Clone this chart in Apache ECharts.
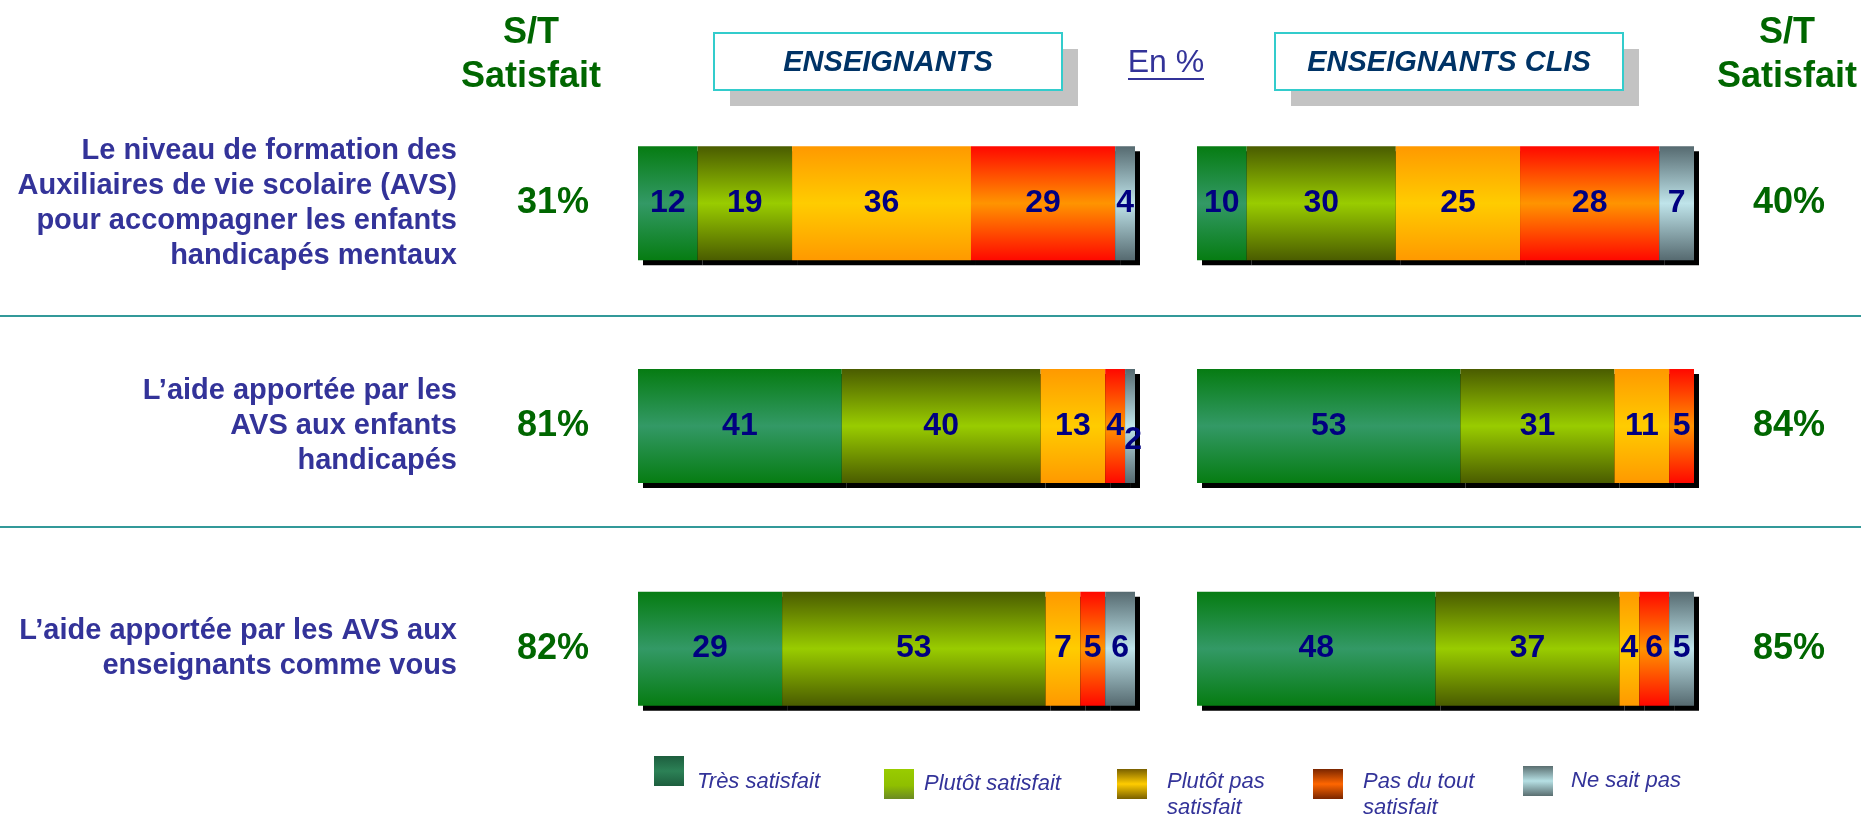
<!DOCTYPE html>
<html>
<head>
<meta charset="utf-8">
<title>Satisfaction AVS</title>
<script src="https://cdn.jsdelivr.net/npm/echarts@6/dist/echarts.min.js"></script>
<style>
html, body { margin: 0; padding: 0; background: #fff; }
#chart { width: 1861px; height: 817px; }
</style>
</head>
<body>
<div id="chart"></div>
<script>
// questions (one per row, top to bottom)
var questions = [
    'Le niveau de formation des\nAuxiliaires de vie scolaire (AVS)\npour accompagner les enfants\nhandicapés mentaux',
    'L\u2019aide apportée par les\nAVS aux enfants\nhandicapés',
    'L\u2019aide apportée par les AVS aux\nenseignants comme vous'
];
var levels = ['Très satisfait', 'Plutôt satisfait', 'Plutôt pas satisfait', 'Pas du tout satisfait', 'Ne sait pas'];
var groups = ['ENSEIGNANTS', 'ENSEIGNANTS CLIS'];

// en %, one row per question, one column per level
var enseignants = [
    [12, 19, 36, 29, 4],
    [41, 40, 13, 4, 2],
    [29, 53, 7, 5, 6]
];
var enseignantsClis = [
    [10, 30, 25, 28, 7],
    [53, 31, 11, 5, null],
    [48, 37, 4, 6, 5]
];
// S/T satisfait
var stEnseignants = [31, 81, 82];
var stClis = [40, 84, 85];

var FONT = 'Arial, "Liberation Sans", sans-serif';

function grad(edge, mid) {
    return new echarts.graphic.LinearGradient(0, 0, 0, 1, [
        {offset: 0, color: edge}, {offset: 0.5, color: mid}, {offset: 1, color: edge}
    ]);
}
var barColors = [
    grad('#067c12', '#339966'),
    grad('#4a5c00', '#99cc00'),
    grad('#ff9900', '#ffcc00'),
    grad('#ff0800', '#ff9400'),
    grad('#566a70', '#bfe4ea')
];
var legendColors = [
    grad('#1d5e3e', '#2c8156'),
    new echarts.graphic.LinearGradient(0, 0, 0, 1, [{offset: 0, color: '#99cc00'}, {offset: 0.55, color: '#8fbf00'}, {offset: 1, color: '#6b8a23'}]),
    grad('#7a6000', '#ffcc00'),
    grad('#7a2600', '#ff6600'),
    grad('#5a6e70', '#b6e0e4')
];

function makeSeries(rows, gridIdx, yIdx, stack) {
    return levels.map(function (name, k) {
        return {
            name: name,
            type: 'bar',
            stack: stack,
            xAxisIndex: gridIdx,
            yAxisIndex: yIdx,
            barWidth: 114,
            data: rows.map(function (r) {
                var v = r[k];
                if (v != null && v <= 2) {
                    return {value: v, label: {offset: [3, 14]}};
                }
                return v;
            }),
            itemStyle: {
                color: barColors[k],
                shadowColor: '#000',
                shadowBlur: 0,
                shadowOffsetX: 5,
                shadowOffsetY: 5
            },
            label: {
                show: true,
                position: 'inside',
                color: '#000080',
                fontFamily: FONT,
                fontWeight: 'bold',
                fontSize: 32
            },
            emphasis: {disabled: true}
        };
    });
}

// legend spots: shift = push the text below the icon centre
var legendSpots = [
    {left: 654, top: 747, gap: 8, shift: true},
    {left: 884, top: 769, gap: 5},
    {left: 1117, top: 747, gap: 15, shift: true, wrap: true},
    {left: 1313, top: 747, gap: 15, shift: true, wrap: true},
    {left: 1523, top: 766, gap: 13}
];

var legends = levels.map(function (name, k) {
    var spot = legendSpots[k];
    return {
        left: spot.left,
        top: spot.top,
        padding: 0,
        selectedMode: false,
        icon: 'rect',
        itemWidth: 30,
        itemHeight: 30,
        data: [{
            name: name,
            itemStyle: {color: legendColors[k], shadowBlur: 0, shadowOffsetX: 0, shadowOffsetY: 0, borderWidth: 0}
        }],
        formatter: function (n) {
            var lines = spot.wrap ? n.replace(/ satisfait$/, '\nsatisfait').split('\n') : [n];
            var txt = lines.map(function (l) { return '{t|' + l + '}'; }).join('\n');
            return spot.shift ? '{p| }\n' + txt : txt;
        },
        textStyle: {
            padding: [0, 0, 0, spot.gap],
            rich: {
                p: {fontSize: 2, lineHeight: 22, height: 22},
                t: {color: '#333399', fontStyle: 'italic', fontFamily: FONT, fontSize: 22, lineHeight: 26}
            }
        }
    };
});

function pct(v) { return v + '%'; }

var headerText = {color: '#006600', fontSize: 36, fontWeight: 'bold', lineHeight: 44, fontFamily: FONT};

var graphics = [];
[714, 1275].forEach(function (x, i) {
    graphics.push({type: 'rect', silent: true, shape: {x: x + 16, y: 49, width: 348, height: 57}, style: {fill: '#c3c3c3'}});
    graphics.push({type: 'rect', silent: true, shape: {x: x, y: 33, width: 348, height: 57}, style: {fill: '#fff', stroke: '#33cccc', lineWidth: 2}});
    graphics.push({type: 'text', silent: true, x: x + 174, y: 63, style: {
        text: groups[i], fill: '#003366', fontFamily: FONT, fontSize: 29, fontWeight: 'bold', fontStyle: 'italic',
        align: 'center', verticalAlign: 'middle'
    }});
});
graphics.push({type: 'text', silent: true, x: 1166, y: 63, style: {
    text: 'En %', fill: '#333399', fontFamily: FONT, fontSize: 32, align: 'center', verticalAlign: 'middle'
}});
graphics.push({type: 'line', silent: true, shape: {x1: 1128, y1: 79, x2: 1204, y2: 79}, style: {stroke: '#333399', lineWidth: 2}});
[316, 527].forEach(function (y) {
    graphics.push({type: 'line', silent: true, shape: {x1: 0, y1: y, x2: 1861, y2: y}, style: {stroke: '#339999', lineWidth: 2}});
});

var hiddenAxis = {axisLine: {show: false}, axisTick: {show: false}, splitLine: {show: false}};

var option = {
    animation: false,
    backgroundColor: '#fff',
    title: [
        {text: 'S/T\nSatisfait', left: 531, top: 11, textAlign: 'center', padding: 0, textStyle: headerText},
        {text: 'S/T\nSatisfait', left: 1787, top: 11, textAlign: 'center', padding: 0, textStyle: headerText}
    ],
    legend: legends,
    graphic: graphics,
    grid: [
        {left: 638, top: 92, width: 497, height: 668, outerBoundsMode: 'none'},
        {left: 1197, top: 92, width: 497, height: 668, outerBoundsMode: 'none'}
    ],
    xAxis: [
        {gridIndex: 0, type: 'value', min: 0, max: 100, show: false},
        {gridIndex: 1, type: 'value', min: 0, max: 100, show: false}
    ],
    yAxis: [
        Object.assign({gridIndex: 0, type: 'category', inverse: true, position: 'left', data: questions,
            axisLabel: {interval: 0, margin: 181, align: 'right', color: '#333399', fontWeight: 'bold',
                fontSize: 29, lineHeight: 35, fontFamily: FONT, padding: [0, 0, 10, 0]}}, hiddenAxis),
        Object.assign({gridIndex: 0, type: 'category', inverse: true, position: 'left', data: stEnseignants.map(pct),
            axisLabel: {interval: 0, margin: 85, align: 'center', color: '#006600', fontWeight: 'bold',
                fontSize: 36, fontFamily: FONT}}, hiddenAxis),
        Object.assign({gridIndex: 1, type: 'category', inverse: true, position: 'right', data: stClis.map(pct),
            axisLabel: {interval: 0, margin: 95, align: 'center', color: '#006600', fontWeight: 'bold',
                fontSize: 36, fontFamily: FONT}}, hiddenAxis)
    ],
    series: makeSeries(enseignants, 0, 0, 'ens').concat(makeSeries(enseignantsClis, 1, 2, 'clis'))
};

var myChart = echarts.init(document.getElementById('chart'));
myChart.setOption(option);
</script>
</body>
</html>
